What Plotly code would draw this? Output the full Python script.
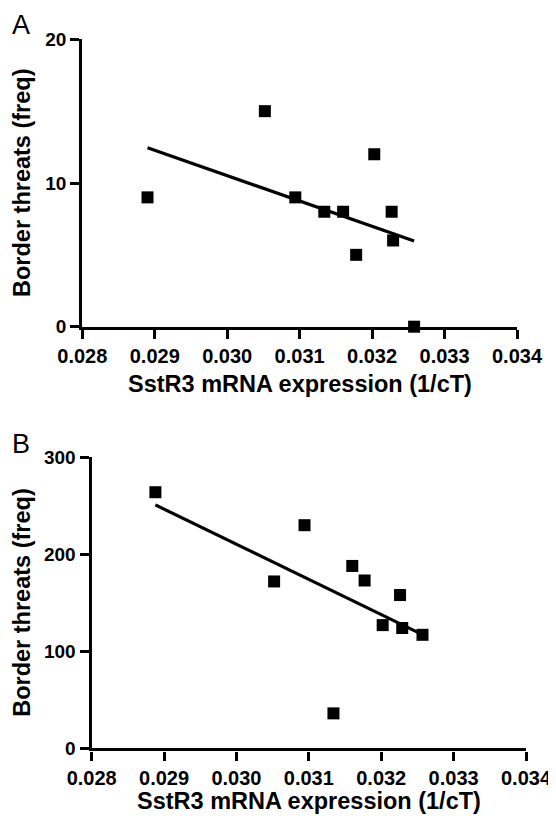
import numpy as np
import plotly.graph_objects as go

# SstR3 mRNA expression (1/cT) for each animal
sstr3_a = [0.02890, 0.03052, 0.03094, 0.03134, 0.03160, 0.03178, 0.03203, 0.03227, 0.03229, 0.03258]
threats_a = [9, 15, 9, 8, 8, 5, 12, 8, 6, 0]

sstr3_b = [0.02888, 0.03052, 0.03094, 0.03134, 0.03160, 0.03177, 0.03202, 0.03226, 0.03229, 0.03257]
threats_b = [264, 172, 230, 36, 188, 173, 127, 158, 124, 117]

x_ticks = [0.028, 0.029, 0.030, 0.031, 0.032, 0.033, 0.034]
y_ticks_a = [0, 10, 20]
y_ticks_b = [0, 100, 200, 300]

panel_labels = ["A", "B"]
x_title = "SstR3 mRNA expression (1/cT)"
y_title = "Border threats (freq)"

FONT = "Liberation Sans, Arial, Helvetica, sans-serif"
# the page body has an 8px default margin, so the figure is 8px smaller than the window
OFF = 8
W, H = 556 - OFF, 816 - OFF


def px(x):
    return (x - OFF) / W


def py(y):
    return 1 - (y - OFF) / H


def fit_line(x, y):
    x = np.asarray(x, float)
    y = np.asarray(y, float)
    m, b = np.polyfit(x, y, 1)
    xs = np.array([x.min(), x.max()])
    return xs, m * xs + b


fig = go.Figure()

for i, (xs, ys) in enumerate([(sstr3_a, threats_a), (sstr3_b, threats_b)]):
    xa = "x" if i == 0 else "x2"
    ya = "y" if i == 0 else "y2"
    lx, ly = fit_line(xs, ys)
    fig.add_trace(go.Scatter(x=lx, y=ly, mode="lines", line=dict(color="black", width=3.2),
                             xaxis=xa, yaxis=ya, showlegend=False, cliponaxis=False))
    fig.add_trace(go.Scatter(x=xs, y=ys, mode="markers",
                             marker=dict(symbol="square", size=12, color="black", line=dict(width=0)),
                             xaxis=xa, yaxis=ya, showlegend=False, cliponaxis=False))

axis_common = dict(
    showline=True, linecolor="black", linewidth=3.4,
    ticks="outside", ticklen=9, tickwidth=3.4, tickcolor="black",
    showgrid=False, zeroline=False, automargin=False,
)
xfont = dict(family=FONT, size=20, color="black", weight="bold")
yfont = dict(family=FONT, size=19, color="black", weight="bold")
tfont = dict(family=FONT, size=23.5, color="black", weight="bold")

# plot-area pixel boxes (window coordinates)
A_x0, A_x1, A_y0, A_y1 = 82.3, 517.0, 326.7, 39.3
B_x0, B_x1, B_y0, B_y1 = 91.7, 526.0, 748.3, 457.3

fig.update_layout(
    template="none",
    width=W, height=H,
    margin=dict(l=0, r=0, t=0, b=0),
    paper_bgcolor="white", plot_bgcolor="rgba(0,0,0,0)",
    xaxis=dict(domain=[px(A_x0), px(A_x1)], anchor="y", range=[0.028, 0.034],
               tickvals=x_ticks, tickformat=".3f", tickfont=xfont, ticklabelstandoff=0,
               **axis_common),
    yaxis=dict(domain=[py(A_y0), py(A_y1)], anchor="x", range=[0, 20],
               tickvals=y_ticks_a, tickfont=yfont, ticklabelstandoff=0, **axis_common),
    xaxis2=dict(domain=[px(B_x0), px(B_x1)], anchor="y2", range=[0.028, 0.034],
                tickvals=x_ticks, tickformat=".3f", tickfont=xfont, ticklabelstandoff=0,
                **axis_common),
    yaxis2=dict(domain=[py(B_y0), py(B_y1)], anchor="x2", range=[0, 300],
                tickvals=y_ticks_b, tickfont=yfont, ticklabelstandoff=0, **axis_common),
    annotations=[
        dict(text=panel_labels[0], x=px(10), y=py(8.5), xref="paper", yref="paper",
             xanchor="left", yanchor="top", showarrow=False,
             font=dict(family=FONT, size=27, color="black")),
        dict(text=panel_labels[1], x=px(10), y=py(427), xref="paper", yref="paper",
             xanchor="left", yanchor="top", showarrow=False,
             font=dict(family=FONT, size=27, color="black")),
        # axis titles
        dict(text=x_title, x=px((A_x0 + A_x1) / 2), y=py(384), xref="paper", yref="paper",
             xanchor="center", yanchor="middle", showarrow=False, font=tfont),
        dict(text=x_title, x=px((B_x0 + B_x1) / 2), y=py(801), xref="paper", yref="paper",
             xanchor="center", yanchor="middle", showarrow=False, font=tfont),
        dict(text=y_title, x=px(22), y=py((A_y0 + A_y1) / 2), xref="paper", yref="paper",
             xanchor="center", yanchor="middle", textangle=-90, showarrow=False, font=tfont),
        dict(text=y_title, x=px(22), y=py((B_y0 + B_y1) / 2), xref="paper", yref="paper",
             xanchor="center", yanchor="middle", textangle=-90, showarrow=False, font=tfont),
    ],
)

fig.write_html("out.html")
